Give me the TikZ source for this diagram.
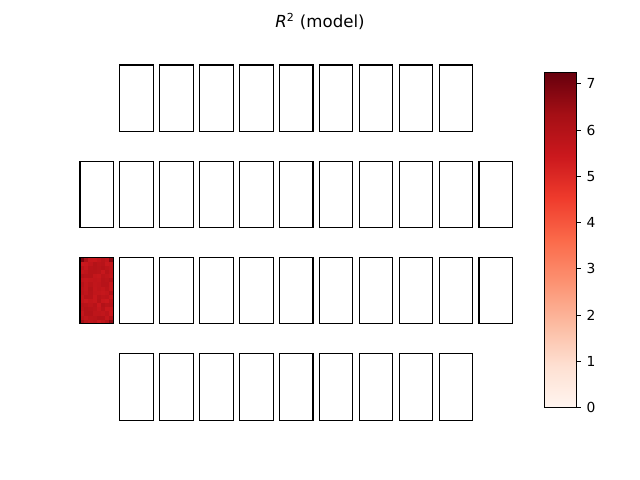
\documentclass[tikz,border=0pt]{standalone}
\usepackage{fontspec}
\setmainfont{DejaVu Sans}
\usetikzlibrary{calc}

% Reds colour map
\definecolor{redsA}{HTML}{FFF5F0}
\definecolor{redsB}{HTML}{FEE0D2}
\definecolor{redsC}{HTML}{FCBBA1}
\definecolor{redsD}{HTML}{FC9272}
\definecolor{redsE}{HTML}{FB6A4A}
\definecolor{redsF}{HTML}{EF3B2C}
\definecolor{redsG}{HTML}{CB181D}
\definecolor{redsH}{HTML}{A50F15}
\definecolor{redsI}{HTML}{67000D}
\pgfdeclareverticalshading{redsbar}{100bp}{color(0bp)=(redsA); color(25bp)=(redsA);
  color(31.25bp)=(redsB); color(37.5bp)=(redsC); color(43.75bp)=(redsD);
  color(50bp)=(redsE); color(56.25bp)=(redsF); color(62.5bp)=(redsG);
  color(68.75bp)=(redsH); color(75bp)=(redsI); color(100bp)=(redsI)}

\begin{document}
\begin{tikzpicture}[x=0.254mm,y=-0.254mm,
    tile/.style={draw=black,line width=0.8pt},
    ticklabel/.style={anchor=west,inner sep=0pt,xshift=3.5pt,font=\fontsize{10}{12}\selectfont}]
        \useasboundingbox (0,0) rectangle (640,480);
        % Title
        \node[anchor=base,inner sep=0pt,font=\fontsize{12}{14}\selectfont] (title) at (320,27.5) {\textit{R}\textsuperscript{2} (model)};
        % Filled tile
        \begin{scope}
            \clip (80,257.6) rectangle ++(33.5,66.3);
            \pgfmathsetseed{11}
            \foreach \i in {0,...,7} {
                \foreach \j in {0,...,15} {
                    \pgfmathsetmacro\mix{35+65*rnd}
                    \fill[redsG!\mix!redsH] ({80+\i*33.5/8},{257.6+\j*66.3/16}) rectangle ++(4.4,4.4);
                }
            }
            \fill[redsI!70!redsH] (80,257.6) rectangle ++(4.2,4.2);
            \fill[redsH!80!redsG] (84.2,257.6) rectangle ++(4.2,4.2);
            \fill[redsH!60!redsI] ({80+7*33.5/8},257.6) rectangle ++(4.4,4.2);
            \fill[redsH!60!redsI] ({80+7*33.5/8},{257.6+15*66.3/16}) rectangle ++(4.4,4.4);
            \fill[redsH] (80,{257.6+15*66.3/16}) rectangle ++(4.2,4.4);
        \end{scope}
        % Tile outlines
        \foreach \r/\first/\last in {0/1/9,1/0/10,2/0/10,3/1/9} {
            \foreach \k in {\first,...,\last} {
                \draw[tile] ({80+39.9*\k},{65+96.3*\r}) rectangle ++(33.5,66.3);
            }
        }
        % Colour bar
        \shade[shading=redsbar] (544.3,72.3) rectangle (576.3,407.7);
        \draw[tile] (544.3,72.3) rectangle (576.3,407.7);
        \foreach \v in {0,...,7} {
            \draw[line width=0.8pt] (576.3,{407.7-46.26*\v}) -- ++(4.86,0) node[ticklabel] (tick\v) {\v};
        }
\end{tikzpicture}
\end{document}
